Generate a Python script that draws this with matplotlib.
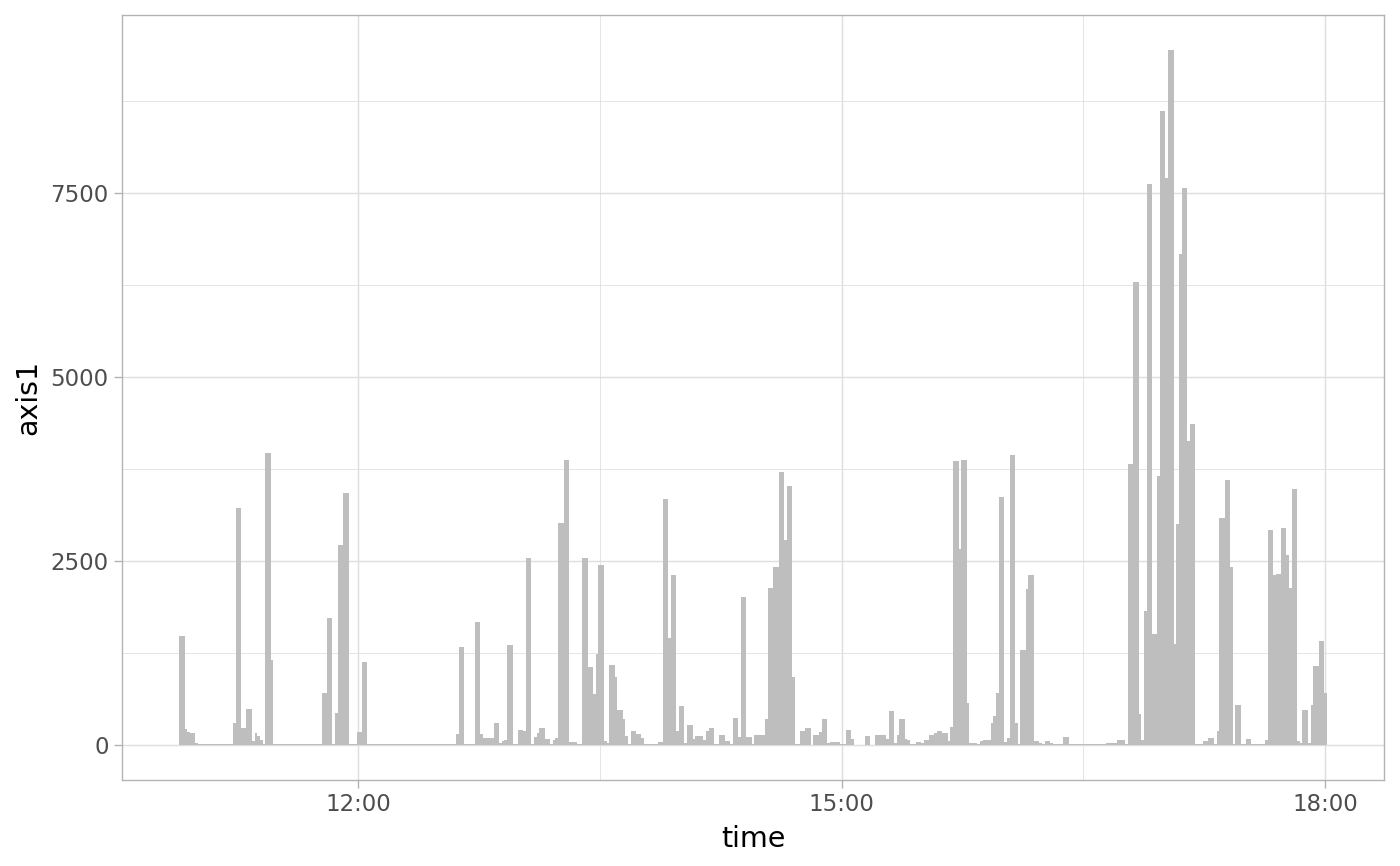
import datetime as dt

import numpy as np
import matplotlib
matplotlib.use("Agg")
import matplotlib.pyplot as plt
import matplotlib.dates as mdates

# one value per minute, first epoch at 10:54, last at 18:00
start_time = dt.datetime(2020, 1, 1, 10, 54)

axis1 = (
    [1480, 1480, 215, 185, 170, 170, 35]
    + [10] * 5 + [15, 15] + [10] * 6
    + [308, 3230, 3230, 240, 240, 498, 498, 60, 170, 120, 77, 10, 3973, 3973, 1155]
    + [10] * 18
    + [716, 716, 1730, 1730, 10, 444, 2718, 2718, 3434, 3434, 10, 10, 10, 181, 181, 1132, 1132]
    + [10] * 33
    + [150, 1336, 1336, 10, 10, 10, 10, 1676, 1676, 159, 104, 104, 104, 104, 308, 308,
       36, 55, 72, 1359, 1359, 10, 10, 213, 213, 190, 2546, 2546, 10, 113, 172, 240, 240,
       90, 90, 23, 68, 104, 3021, 3021, 3873, 3873, 45, 45, 45, 10, 10]
    + [2550, 2550, 1065, 1065, 690, 1241, 2446, 2446, 59, 36, 1096, 1096, 929, 485, 485,
       353, 127, 10, 190, 190, 159, 159, 100, 10, 10, 10, 10, 10, 45, 45]
    + [3343, 3343, 1459, 2310, 2310, 195, 535, 535, 36, 281, 281, 90, 127, 127, 127, 72,
       195, 240, 240, 14, 14, 145, 145, 54, 54, 10, 371, 371, 113, 2016, 2016, 113, 113, 14]
    + [136, 136, 136, 136, 362, 2138, 2138, 2424, 2424, 3715, 3715, 2795, 3524, 3524, 929,
       23, 23, 199, 199, 236, 236, 9, 136, 136, 181, 362, 362, 32, 40, 40, 40, 40, 18, 18]
    + [204, 204, 82, 9, 9, 9, 9, 127, 127, 9, 9, 136, 145, 145, 145, 82, 462, 462, 27, 136,
       362, 362, 90, 68, 23, 10, 45, 45, 32, 68, 68, 136, 136, 168, 199, 199, 168, 168, 59]
    + [249, 3860, 3860, 2664, 3878, 3878, 580, 32, 32, 32, 10, 59, 77, 77, 77, 303, 399, 711,
       3375, 3375, 45, 100, 3941, 3941, 308, 10, 1291, 1291, 2129, 2310, 2310, 54, 54, 32, 10,
       54, 54, 32, 14, 14, 14, 14, 113, 113, 23, 23]
    + [15] * 12 + [30] * 4 + [75, 75, 75, 20]
    + [3825, 3825, 6300, 6300, 425, 75, 1825, 7625, 7625, 1512, 1512, 3656, 8612, 8612, 7706,
       9450, 9450, 1375, 3012, 6675, 7569, 7569, 4137, 4362, 4362]
    + [10, 10, 10, 60, 60, 94, 94, 20, 200, 3094, 3094, 3601, 3601, 2424, 10, 544, 544, 10, 10,
       90, 90, 10, 10, 10, 10, 10, 68]
    + [2931, 2931, 2310, 2333, 2333, 2945, 2945, 2591, 2138, 3488, 3488, 59, 32, 476, 476, 32,
       544, 1078, 1078, 1418, 1418, 716]
)

y_major = [0, 2500, 5000, 7500]
y_minor = [1250, 3750, 6250, 8750]
x_major = ["12:00", "15:00", "18:00"]
x_minor = ["13:30", "16:30"]


def at(hhmm):
    h, m = hhmm.split(":")
    return mdates.date2num(start_time.replace(hour=int(h), minute=int(m)))


def make_plot():
    values = np.array(axis1, dtype=float)
    one_min = 1.0 / 1440.0
    times = mdates.date2num(start_time) + np.arange(len(values)) * one_min

    fig = plt.figure(figsize=(14, 8.66), dpi=100)
    ax = fig.add_axes([0.0871, 0.0993, 0.9015, 0.8834])

    ax.bar(times, values, width=one_min, color="#BEBEBE", linewidth=0, zorder=3)

    # ggplot style 5% expansion
    x_lo = times[0] - 0.5 * one_min
    x_hi = times[-1] + 0.5 * one_min
    pad = 0.05 * (x_hi - x_lo)
    ax.set_xlim(x_lo - pad, x_hi + pad)
    ymax = values.max()
    ax.set_ylim(-0.05 * ymax, 1.05 * ymax)

    ax.set_xticks([at(t) for t in x_major])
    ax.set_xticks([at(t) for t in x_minor], minor=True)
    ax.xaxis.set_major_formatter(mdates.DateFormatter("%H:%M"))
    ax.set_yticks(y_major)
    ax.set_yticks(y_minor, minor=True)
    ax.set_yticklabels([str(v) for v in y_major])

    ax.grid(True, which="major", color="#DEDEDE", linewidth=1.0, zorder=0)
    ax.grid(True, which="minor", color="#DEDEDE", linewidth=0.55, zorder=0)
    ax.set_axisbelow(True)

    for side in ax.spines.values():
        side.set_color("#B3B3B3")
        side.set_linewidth(1.0)

    ax.tick_params(which="major", length=5.5, width=1.0, color="#B3B3B3",
                   labelcolor="#4D4D4D", labelsize=16.5, pad=4)
    ax.tick_params(which="minor", length=0)

    ax.set_xlabel("time", fontsize=20.5, color="black", labelpad=6)
    ax.set_ylabel("axis1", fontsize=20.5, color="black", labelpad=6)

    fig.savefig("out.png", dpi=100)


if __name__ == "__main__":
    make_plot()
